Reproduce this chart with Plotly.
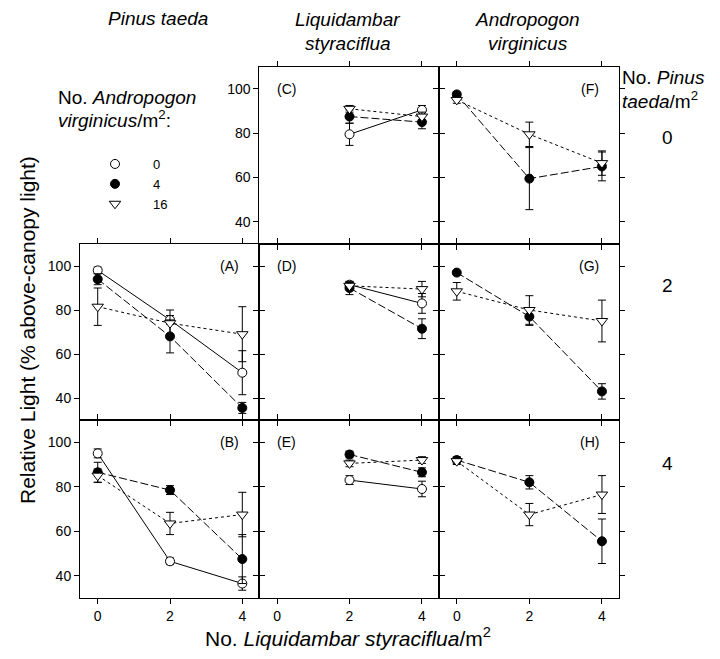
import plotly.graph_objects as go

# Liquidambar densities (x) used in each column
x_pinus = [0, 2, 4]
x_liquid = [2, 4]
x_andro = [0, 2, 4]

# Relative light (%) and SE, by panel and Andropogon density (0 = open, 4 = filled, 16 = triangle)
A_open = [98, 75.5, 51.5];   A_open_se = [1.5, 2, 10]
A_fill = [94, 68, 35.5];     A_fill_se = [2.5, 7.5, 2.5]
A_tri = [81.5, 74, 69];      A_tri_se = [8.5, 6, 12.5]

B_open = [95, 46.5, 36.5];   B_open_se = [2, 1.5, 3]
B_fill = [86.5, 78.5, 47.5]; B_fill_se = [4.5, 2, 11]
B_tri = [85, 63.5, 67.5];    B_tri_se = [3, 5, 10]

C_open = [79.5, 90.5];       C_open_se = [5, 2]
C_fill = [87.5, 85];         C_fill_se = [3, 3]
C_tri = [91, 87.5];          C_tri_se = [1.5, 2]

D_open = [91.5, 83];         D_open_se = [1.5, 4.5]
D_fill = [90, 71.5];         D_fill_se = [3, 4.5]
D_tri = [91, 89.5];          D_tri_se = [1.5, 3.5]

E_open = [83, 79];           E_open_se = [2, 3.5]
E_fill = [94.5, 86.5];       E_fill_se = [1.5, 2]
E_tri = [90.5, 92];          E_tri_se = [1.5, 1.5]

F_fill = [97.5, 59.5, 65];   F_fill_se = [1, 14, 6.5]
F_tri = [95, 79.5, 66.5];    F_tri_se = [1.5, 5.5, 5.5]

G_fill = [97, 77, 43];       G_fill_se = [1, 4, 3.5]
G_tri = [88.5, 80, 75];      G_tri_se = [4, 6.5, 9.5]

H_fill = [92, 82, 55.5];     H_fill_se = [1.5, 3, 10]
H_tri = [91.5, 67.5, 76.5];  H_tri_se = [1.5, 5, 8.5]

andro_levels = ["0", "4", "16"]
x_ticks = [0, 2, 4]
y_ticks = [40, 60, 80, 100]

FONT = "Liberation Sans, Arial, sans-serif"
W, H = 720, 659

# pixel grid of the panel block
col_edges = [80, 259.3, 439, 619]
row_edges = [66.7, 244, 420, 598]


def px_x(p):
    return p / W


def px_y(p):
    return 1 - p / H


styles = {
    "0": dict(symbol="circle", color="white", size=9, dash="solid"),
    "4": dict(symbol="circle", color="black", size=9, dash="8px,3px"),
    "16": dict(symbol="triangle-down", color="white", size=10, dash="dot"),
}

# panel key -> (row, col, x values, series list, label side)
panels = {
    "A": (1, 0, x_pinus, [("0", A_open, A_open_se), ("4", A_fill, A_fill_se), ("16", A_tri, A_tri_se)], "right"),
    "B": (2, 0, x_pinus, [("0", B_open, B_open_se), ("4", B_fill, B_fill_se), ("16", B_tri, B_tri_se)], "right"),
    "C": (0, 1, x_liquid, [("0", C_open, C_open_se), ("4", C_fill, C_fill_se), ("16", C_tri, C_tri_se)], "left"),
    "D": (1, 1, x_liquid, [("0", D_open, D_open_se), ("4", D_fill, D_fill_se), ("16", D_tri, D_tri_se)], "left"),
    "E": (2, 1, x_liquid, [("0", E_open, E_open_se), ("4", E_fill, E_fill_se), ("16", E_tri, E_tri_se)], "left"),
    "F": (0, 2, x_andro, [("4", F_fill, F_fill_se), ("16", F_tri, F_tri_se)], "right"),
    "G": (1, 2, x_andro, [("4", G_fill, G_fill_se), ("16", G_tri, G_tri_se)], "right"),
    "H": (2, 2, x_andro, [("4", H_fill, H_fill_se), ("16", H_tri, H_tri_se)], "right"),
}

fig = go.Figure()
layout = {}
annotations = []

for i, (key, (row, col, xs, series, side)) in enumerate(panels.items()):
    n = i + 1
    xa = "x" if n == 1 else f"x{n}"
    ya = "y" if n == 1 else f"y{n}"
    xdom = [px_x(col_edges[col]), px_x(col_edges[col + 1])]
    ydom = [px_y(row_edges[row + 1]), px_y(row_edges[row])]
    show_y = col == 0 or key == "C"
    show_x = row == 2
    common = dict(showline=True, linecolor="black", linewidth=1, mirror="ticks",
                  ticks="outside", ticklen=5, tickwidth=1, tickcolor="black",
                  showgrid=False, zeroline=False,
                  tickfont=dict(family=FONT, size=14, color="black"))
    layout[f"xaxis{n if n > 1 else ''}"] = dict(
        domain=xdom, anchor=ya, range=[-0.49, 4.47], tickvals=x_ticks,
        showticklabels=show_x, **common)
    layout[f"yaxis{n if n > 1 else ''}"] = dict(
        domain=ydom, anchor=xa, range=[30, 110], tickvals=y_ticks,
        showticklabels=show_y, **common)

    for level, ys, se in series:
        st = styles[level]
        fig.add_trace(go.Scatter(
            x=xs, y=ys, xaxis=xa, yaxis=ya, mode="lines+markers",
            line=dict(color="black", width=1, dash=st["dash"]),
            marker=dict(symbol=st["symbol"], size=st["size"], color=st["color"],
                        line=dict(color="black", width=1)),
            error_y=dict(type="data", array=se, visible=True, color="black",
                         thickness=1, width=4),
            showlegend=False, cliponaxis=False))

    annotations.append(dict(
        text=f"({key})", xref=f"{xa} domain", yref=f"{ya} domain",
        x=0.085 if side == "left" else 0.9, y=0.875,
        xanchor="left" if side == "left" else "right", yanchor="middle",
        showarrow=False, font=dict(family=FONT, size=14, color="black")))

# legend entries for Andropogon density
for level in andro_levels:
    st = styles[level]
    fig.add_trace(go.Scatter(
        x=[None], y=[None], mode="markers", name="\u00a0" * 5 + level,
        marker=dict(symbol=st["symbol"], size=st["size"], color=st["color"],
                    line=dict(color="black", width=1)),
        showlegend=True))

big = dict(family=FONT, size=19, color="black")


def text(t, x, y, xanchor="center", angle=0, font=big):
    annotations.append(dict(text=t, xref="paper", yref="paper", x=px_x(x), y=px_y(y),
                            xanchor=xanchor, yanchor="middle", showarrow=False,
                            textangle=angle, font=font))


# column headings (target species)
text("<i>Pinus taeda</i>", 157.5, 19)
text("<i>Liquidambar</i>", 347.5, 20)
text("<i>styraciflua</i>", 347.5, 43)
text("<i>Andropogon</i>", 527.5, 20)
text("<i>virginicus</i>", 527.5, 43)

# row headings (Pinus density)
text("No. <i>Pinus</i>", 620, 78, xanchor="left")
text("<i>taeda</i>/m<sup>2</sup>", 620, 100, xanchor="left")
text("0", 667, 137)
text("2", 667, 285)
text("4", 667, 463)

# legend heading
text("No. <i>Andropogon</i>", 56, 97, xanchor="left")
text("<i>virginicus</i>/m<sup>2</sup>:", 56, 119, xanchor="left")

# axis titles
text("Relative Light (% above-canopy light)", 27, 330, angle=-90, font=dict(family=FONT, size=21, color="black"))
text("No. <i>Liquidambar styraciflua</i>/m<sup>2</sup>", 348, 637, font=dict(family=FONT, size=21, color="black"))

fig.update_layout(
    **layout,
    width=W, height=H,
    margin=dict(l=0, r=0, t=0, b=0),
    paper_bgcolor="white", plot_bgcolor="white",
    annotations=annotations,
    showlegend=True,
    legend=dict(x=px_x(95), y=px_y(149), xanchor="left", yanchor="top",
                bgcolor="rgba(0,0,0,0)", borderwidth=0, tracegroupgap=0,
                font=dict(family=FONT, size=13, color="black"), itemsizing="trace"),
)

fig.write_html("out.html")
